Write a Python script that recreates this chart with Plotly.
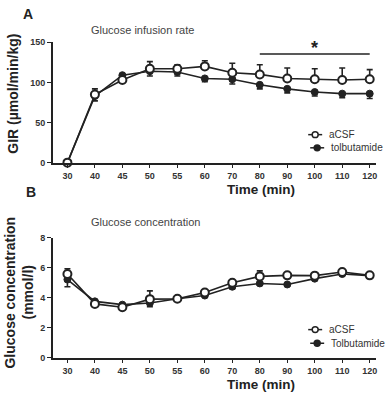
import plotly.graph_objects as go

# ---- data ----
time_labels = ["30", "40", "45", "50", "55", "60", "70", "80", "90", "100", "110", "120"]

gir_acsf = [0, 85, 103, 117, 117, 120, 112, 110, 105, 104, 103, 104]
gir_acsf_err = [0, 7, 3, 9, 5, 7, 12, 12, 13, 13, 15, 12]
gir_tolb = [0, 83, 109, 114, 113, 105, 104, 97, 92, 88, 86, 86]
gir_tolb_err = [0, 6, 2, 6, 5, 4, 6, 5, 5, 5, 5, 6]

glc_acsf = [5.59, 3.59, 3.37, 3.91, 3.93, 4.35, 5.0, 5.43, 5.5, 5.48, 5.72, 5.5]
glc_acsf_err = [0.35, 0.1, 0.08, 0.55, 0.12, 0.12, 0.12, 0.37, 0.1, 0.08, 0.08, 0.08]
glc_tolb = [5.22, 3.76, 3.54, 3.65, 3.93, 4.15, 4.74, 4.96, 4.89, 5.28, 5.59, 5.48]
glc_tolb_err = [0.48, 0.08, 0.08, 0.24, 0.1, 0.1, 0.14, 0.1, 0.1, 0.1, 0.1, 0.15]

gir_ticks = [0, 50, 100, 150]
glc_ticks = [0, 2, 4, 6, 8]

# significance bar spans these time points
sig_start, sig_end = "80", "120"
sig_level = 135.5

W, H = 387, 397
FONT = "Liberation Sans, Arial, sans-serif"
LINE = "#222222"


def py(p):
    return (H - p) / H


def px(p):
    return p / W


fig = go.Figure()


def add_pair(xa, ya, y1, e1, y2, e2, n1, n2):
    fig.add_trace(go.Scatter(
        x=time_labels, y=y2, name=n2, mode="lines+markers",
        xaxis=xa, yaxis=ya, cliponaxis=False, showlegend=False,
        line=dict(color=LINE, width=1.6),
        marker=dict(symbol="circle", size=7, color=LINE, line=dict(color=LINE, width=1)),
        error_y=dict(type="data", symmetric=False, array=[0] * len(e2), arrayminus=e2,
                     color=LINE, thickness=1.6, width=3),
    ))
    fig.add_trace(go.Scatter(
        x=time_labels, y=y1, name=n1, mode="lines+markers",
        xaxis=xa, yaxis=ya, cliponaxis=False, showlegend=False,
        line=dict(color=LINE, width=1.6),
        marker=dict(symbol="circle", size=8, color="white", line=dict(color=LINE, width=2)),
        error_y=dict(type="data", symmetric=False, array=e1, arrayminus=[0] * len(e1),
                     color=LINE, thickness=1.6, width=3),
    ))


add_pair("x", "y", gir_acsf, gir_acsf_err, gir_tolb, gir_tolb_err, "aCSF", "tolbutamide")
add_pair("x2", "y2", glc_acsf, glc_acsf_err, glc_tolb, glc_tolb_err, "aCSF", "Tolbutamide")

xr = [-0.53, 11.23]
axis_common = dict(
    showline=True, linecolor=LINE, linewidth=1.5, ticks="outside", ticklen=4,
    tickwidth=1.2, tickcolor=LINE, showgrid=False, zeroline=False,
    tickfont=dict(family=FONT, size=9, color="#333333", weight="bold"),
)
fig.update_layout(
    width=W, height=H, margin=dict(l=0, r=0, t=0, b=0),
    paper_bgcolor="white", plot_bgcolor="white", showlegend=False,
    font=dict(family=FONT, color="#222222"),
    xaxis=dict(domain=[px(53), px(377)], anchor="y", type="category", range=xr, **axis_common),
    yaxis=dict(domain=[py(161.7), py(38.3)], anchor="x", range=[0, 150],
               tickvals=gir_ticks, **axis_common),
    xaxis2=dict(domain=[px(53), px(377)], anchor="y2", type="category", range=xr, **axis_common),
    yaxis2=dict(domain=[py(361.7), py(239)], anchor="x2", range=[0, 8],
                tickvals=glc_ticks, **axis_common),
)

ann = []


def text(x, y, s, size, bold=False, angle=0, xanchor="center", color="#222222"):
    ann.append(dict(x=px(x), y=py(y), xref="paper", yref="paper", text=s, showarrow=False,
                    xanchor=xanchor, yanchor="middle", textangle=angle,
                    font=dict(family=FONT, size=size, color=color,
                              weight="bold" if bold else "normal")))


text(28, 9, "A", 14, True)
text(31, 192, "B", 14, True)
text(89, 26, "Glucose infusion rate", 11, xanchor="left", color="#444444")
text(89, 223, "Glucose concentration", 11, xanchor="left", color="#444444")
text(262, 189, "Time (min)", 13.5, True)
text(262, 389, "Time (min)", 13.5, True)
text(13, 91, "GIR (µmol/min/kg)", 14, True, angle=-90)
text(10, 295, "Glucose concentration", 14, True, angle=-90)
text(28, 295, "(mmol/l)", 14, True, angle=-90)

i0 = time_labels.index(sig_start)
i1 = time_labels.index(sig_end)
# significance star
ann.append(dict(x=(i0 + i1) / 2, y=143, xref="x", yref="y", text="*", showarrow=False,
                xanchor="center", yanchor="middle",
                font=dict(family=FONT, size=18, color="#222222", weight="bold")))

shapes = [dict(type="line", xref="x", yref="y", x0=i0, x1=i1, y0=sig_level, y1=sig_level,
               line=dict(color=LINE, width=1.5))]


# legends (manual)
def legend_item(cx, cy, label, filled):
    shapes.append(dict(type="line", xref="paper", yref="paper",
                       x0=px(cx - 7), x1=px(cx + 7), y0=py(cy), y1=py(cy),
                       line=dict(color=LINE, width=1.5)))
    r = 3
    shapes.append(dict(type="circle", xref="paper", yref="paper",
                       x0=px(cx - r), x1=px(cx + r), y0=py(cy + r), y1=py(cy - r),
                       fillcolor=LINE if filled else "white",
                       line=dict(color=LINE, width=1.5)))
    text(cx + 12, cy, label, 10, xanchor="left", color="#333333")


legend_item(316, 133, "aCSF", False)
legend_item(318, 146.5, "tolbutamide", True)
legend_item(316, 333, "aCSF", False)
legend_item(318, 347, "Tolbutamide", True)

fig.update_layout(annotations=ann, shapes=shapes)
fig.write_html("out.html")
